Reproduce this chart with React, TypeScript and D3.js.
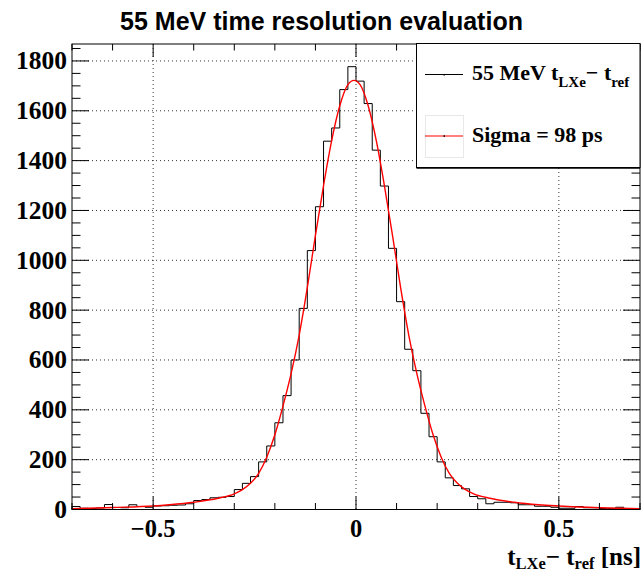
import React from "react";
import * as d3 from "d3";

// ---- data ----
const titleText = "55 MeV time resolution evaluation";
const binLow = -0.7;
const binWidth = 0.02;
const counts = [
  12, 5, 4, 6, 20, 8, 7, 19, 12, 9,
  14, 15, 17, 18, 23, 36, 40, 47, 49, 52,
  80, 105, 132, 191, 255, 348, 457, 600, 807, 1039,
  1215, 1478, 1531, 1685, 1777, 1719, 1629, 1442, 1298, 1048,
  834, 643, 557, 386, 292, 191, 127, 96, 83, 52,
  43, 23, 29, 29, 27, 19, 19, 13, 13, 9,
  5, 5, 12, 7, 7, 4, 4, 9, 4, 4,
];
const fitX = [-0.7, -0.6, -0.5, -0.46, -0.4, -0.34, -0.3, -0.28, -0.26, -0.24, -0.22, -0.2, -0.18, -0.16, -0.14, -0.12, -0.1, -0.08, -0.06, -0.04, -0.02, -0.005, 0.01, 0.03, 0.05, 0.07, 0.09, 0.11, 0.13, 0.15, 0.17, 0.19, 0.21, 0.23, 0.25, 0.27, 0.29, 0.33, 0.39, 0.45, 0.5, 0.6, 0.7];
const fitY = [3, 8, 14, 19, 29, 45, 63, 80, 105, 145, 210, 300, 415, 545, 700, 890, 1100, 1300, 1480, 1620, 1705, 1722, 1705, 1620, 1480, 1300, 1100, 890, 700, 545, 415, 300, 210, 145, 105, 80, 63, 45, 29, 19, 14, 7, 3];
const xMajorTicks = [-0.5, 0, 0.5];
const xMinorTicks = [-0.7, -0.6, -0.4, -0.3, -0.2, -0.1, 0.1, 0.2, 0.3, 0.4, 0.6, 0.7];
const yMajorTicks = [0, 200, 400, 600, 800, 1000, 1200, 1400, 1600, 1800];
const yMinorTicks = [50, 100, 150, 250, 300, 350, 450, 500, 550, 650, 700, 750, 850, 900, 950, 1050, 1100, 1150, 1250, 1300, 1350, 1450, 1500, 1550, 1650, 1700, 1750, 1850];
const xDomain = [-0.7, 0.7];
const yDomain = [0, 1868];
const legendSigma = "Sigma = 98 ps";

const W = 643, H = 573;
const L = 72, R = 640, T = 44, B = 509.5;

export default function App() {
  const x = d3.scaleLinear().domain(xDomain).range([L, R]);
  const y = d3.scaleLinear().domain(yDomain).range([B, T]);

  const histPts: [number, number][] = counts.map((c, i) => [binLow + i * binWidth, c]);
  histPts.push([binLow + counts.length * binWidth, counts[counts.length - 1]]);
  const histLine = d3.line<[number, number]>().x(d => x(d[0])).y(d => y(d[1])).curve(d3.curveStepAfter);
  const histD = `M${x(binLow)},${y(0)}L` + (histLine(histPts) as string).slice(1) + `L${x(binLow + counts.length * binWidth)},${y(0)}`;

  const fitLine = d3.line<number>().x((_, i) => x(fitX[i])).y(d => y(d)).curve(d3.curveMonotoneX);
  const fitD = fitLine(fitY) as string;

  const serif = "'Liberation Serif', 'Times New Roman', serif";
  const sans = "'Liberation Sans', Arial, Helvetica, sans-serif";
  const fmt = (v: number) => (v < 0 ? "\u2212" + Math.abs(v) : String(v));

  return (
    <svg width={W} height={H} style={{ position: "absolute", left: 0, top: 0, display: "block", background: "#fff" }}>
      <rect x={0} y={0} width={W} height={H} fill="#fff" />
      {/* title */}
      <text x={321.5} y={30} textAnchor="middle" fontFamily={sans} fontWeight="bold" fontSize={25} fill="#000">{titleText}</text>

      {/* grid */}
      <g stroke="#000" strokeWidth={1} strokeDasharray="1,3" opacity={0.8}>
        {xMajorTicks.map(t => (
          <line key={"gx" + t} x1={x(t)} x2={x(t)} y1={T} y2={B} />
        ))}
        {yMajorTicks.filter(t => t > 0).map(t => (
          <line key={"gy" + t} x1={L} x2={R} y1={y(t)} y2={y(t)} />
        ))}
      </g>

      {/* histogram */}
      <path d={histD} fill="none" stroke="#000" strokeWidth={1} />
      {/* fit */}
      <path d={fitD} fill="none" stroke="#ff0000" strokeWidth={1.4} />

      {/* frame */}
      <rect x={L} y={T} width={R - L} height={B - T} fill="none" stroke="#000" strokeWidth={1} />

      {/* ticks */}
      <g stroke="#000" strokeWidth={1}>
        {xMajorTicks.map(t => (
          <g key={"xt" + t}>
            <line x1={x(t)} x2={x(t)} y1={B} y2={B - 13} />
            <line x1={x(t)} x2={x(t)} y1={T} y2={T + 13} />
          </g>
        ))}
        {xMinorTicks.map(t => (
          <g key={"xm" + t}>
            <line x1={x(t)} x2={x(t)} y1={B} y2={B - 6.5} />
            <line x1={x(t)} x2={x(t)} y1={T} y2={T + 6.5} />
          </g>
        ))}
        {yMajorTicks.map(t => (
          <g key={"yt" + t}>
            <line x1={L} x2={L + 17} y1={y(t)} y2={y(t)} />
            <line x1={R} x2={R - 17} y1={y(t)} y2={y(t)} />
          </g>
        ))}
        {yMinorTicks.map(t => (
          <g key={"ym" + t}>
            <line x1={L} x2={L + 8.5} y1={y(t)} y2={y(t)} />
            <line x1={R} x2={R - 8.5} y1={y(t)} y2={y(t)} />
          </g>
        ))}
      </g>

      {/* tick labels */}
      <g fontFamily={serif} fontWeight="bold" fill="#000">
        {yMajorTicks.map(t => (
          <text key={"yl" + t} x={67} y={y(t) + 8.5} textAnchor="end" fontSize={25.5}>{String(t)}</text>
        ))}
        {xMajorTicks.map(t => (
          <text key={"xl" + t} x={x(t)} y={537} textAnchor="middle" fontSize={24.5}>{fmt(t)}</text>
        ))}
      </g>

      {/* x axis title */}
      <text x={641} y={565} textAnchor="end" fontFamily={serif} fontWeight="bold" fontSize={25} fill="#000">
        t<tspan fontSize={16.5} dy={4}>LXe</tspan><tspan dy={-4}>{"\u2212 t"}</tspan><tspan fontSize={16.5} dy={4}>ref</tspan><tspan dy={-4}> [ns]</tspan>
      </text>

      {/* legend */}
      <g>
        <rect x={416.5} y={43.5} width={223.5} height={124} fill="#fff" stroke="#000" strokeWidth={1} />
        <line x1={416.5} x2={640} y1={168} y2={168} stroke="#000" strokeWidth={1.5} />
        <line x1={425} x2={463} y1={74.5} y2={74.5} stroke="#000" strokeWidth={1} />
        <rect x={443.5} y={74} width={1.5} height={1.5} fill="#000" />
        <text x={472} y={80} fontFamily={serif} fontWeight="bold" fontSize={22} fill="#000">
          55 MeV t<tspan fontSize={15} dy={7}>LXe</tspan><tspan dy={-7}>{"\u2212 t"}</tspan><tspan fontSize={15} dy={7}>ref</tspan>
        </text>
        <rect x={425.5} y={115.5} width={38} height={42} fill="none" stroke="#e8e8e8" strokeWidth={1} />
        <line x1={425} x2={463} y1={136} y2={136} stroke="#ff0000" strokeWidth={1.2} />
        <rect x={443.5} y={135.3} width={1.5} height={1.5} fill="#000" />
        <text x={472} y={142} fontFamily={serif} fontWeight="bold" fontSize={22} fill="#000">{legendSigma}</text>
      </g>
    </svg>
  );
}
